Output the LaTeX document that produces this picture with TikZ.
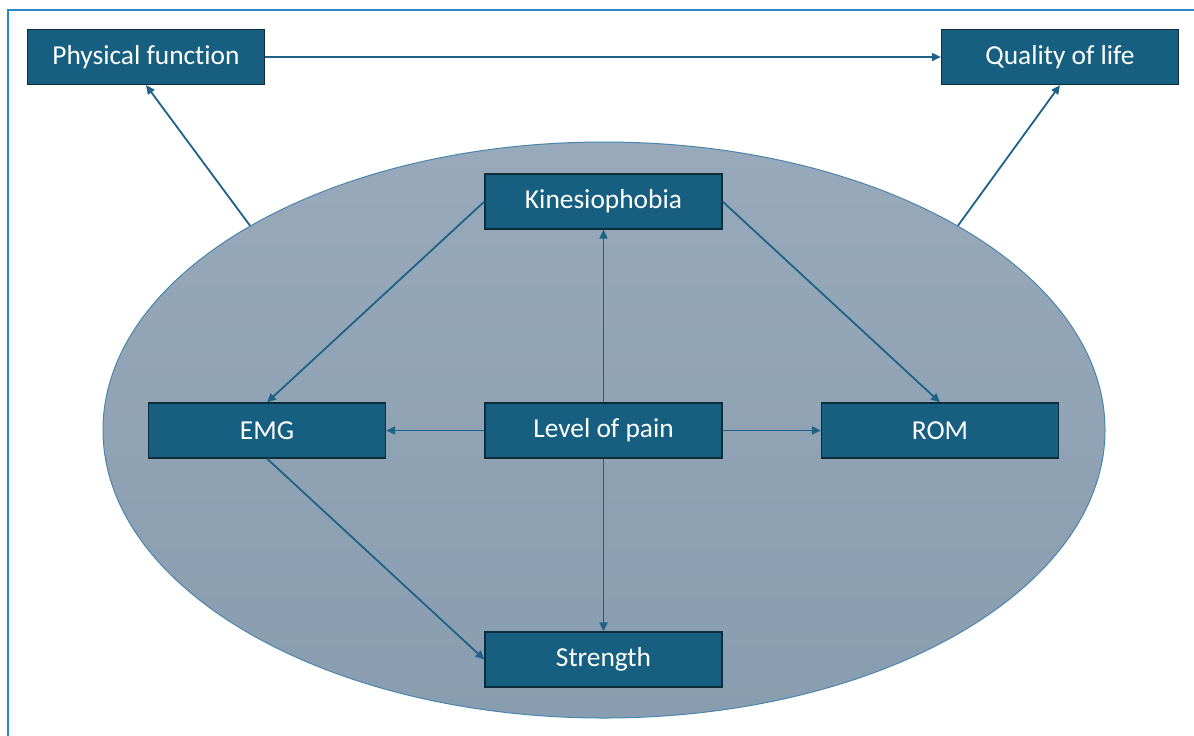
\documentclass[tikz,border=0pt]{standalone}
\usepackage{fontspec}
\setmainfont[Ligatures={NoCommon}]{Carlito}
\usetikzlibrary{arrows.meta, positioning, shapes.geometric}
\definecolor{boxblue}{HTML}{165F80}
\definecolor{boxedge}{HTML}{0E2D3C}
\definecolor{linkblue}{HTML}{1D6388}
\definecolor{framblue}{HTML}{258BC2}
\definecolor{ovaltop}{HTML}{97A9BA}
\definecolor{ovalbot}{HTML}{899DB0}
\definecolor{ovaledge}{HTML}{4A86AC}

\begin{document}
\begin{tikzpicture}[x=0.5pt, y=-0.5pt, >={Triangle[length=4.5pt,width=4pt]},
    box/.style={draw=boxedge, fill=boxblue, line width=0.6pt, text=white,
      minimum width=118.5pt, minimum height=27.5pt, inner sep=0pt,
      font=\fontsize{13.7}{16}\selectfont},
    link/.style={->, draw=linkblue, line width=0.9pt}]
    \useasboundingbox (0,0) rectangle (1194,735);

    % --- Outer frame (left and top edges only) ---
    \draw[framblue, line width=1.2pt] (8,740) -- (8,10) -- (1200,10);

    % --- Oval behind the inner boxes ---
    \node[ellipse, draw=ovaledge, line width=0.5pt, top color=ovaltop,
      bottom color=ovalbot, minimum width=501pt, minimum height=288pt,
      inner sep=0pt] (oval) at (604,430) {};

    % --- Boxes ---
    \node[box] (physfun) at (146,57) {Physical function};
    \node[box] (qol) at (1060,57) {Quality of life};
    \node[box] (kinesio) at (603.5,201.5) {Kinesiophobia};
    \node[box] (emg) at (267,430.5) {EMG};
    \node[box] (pain) at (603.5,430.5) {Level of pain};
    \node[box] (rom) at (940,430.5) {ROM};
    \node[box] (strength) at (603.5,659.5) {Strength};

    % --- Top row ---
    \draw[link] (physfun) -- (qol);
    \draw[link] (oval.150) -- (physfun.south);
    \draw[link] (oval.30) -- (qol.south);

    % --- From level of pain ---
    \draw[link] (pain) -- (kinesio);
    \draw[link] (pain) -- (emg);
    \draw[link] (pain) -- (rom);
    \draw[link] (pain) -- (strength);

    % --- Diagonals ---
    \draw[link] (kinesio.west) -- (emg.north);
    \draw[link] (kinesio.east) -- (rom.north);
    \draw[link] (emg.south) -- (strength.west);
  \end{tikzpicture}
\end{document}
